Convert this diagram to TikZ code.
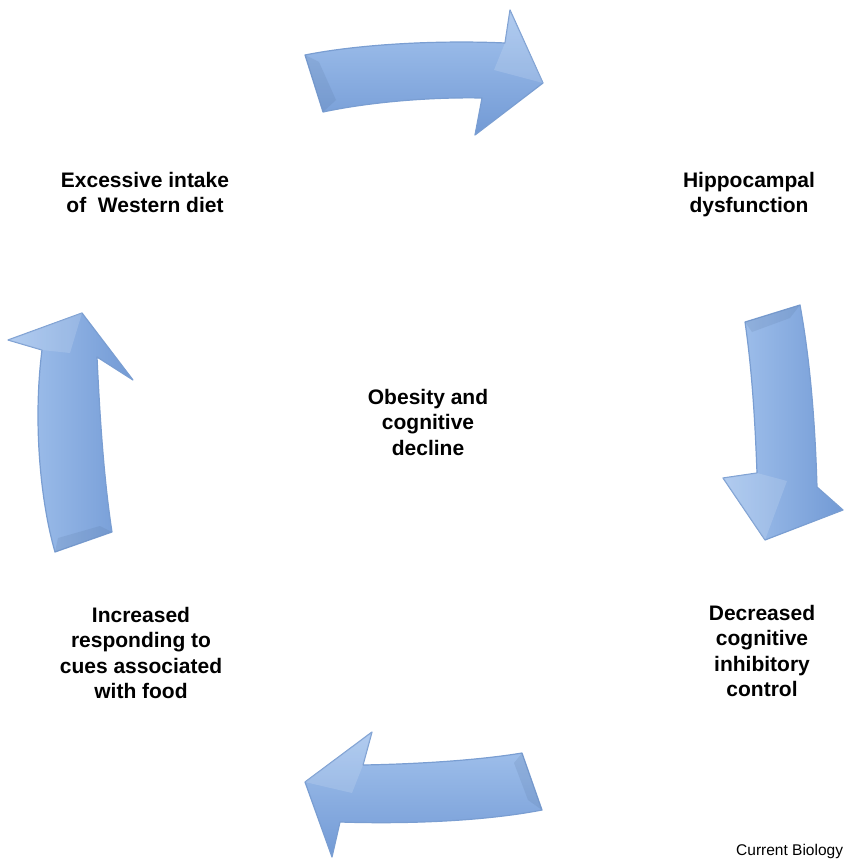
\documentclass[tikz,border=0pt]{standalone}
\usepackage{fontspec}
\setmainfont{Liberation Sans}
\definecolor{arrowlight}{RGB}{165,196,238}
\definecolor{arrowdark}{RGB}{114,154,213}
\definecolor{arrowedge}{RGB}{122,158,210}
\begin{document}
\begin{tikzpicture}[x=1pt, y=-1pt, line join=round,
    cyclearrow/.style={draw=arrowedge, line width=1.2pt},
    litface/.style={fill=white, fill opacity=0.14, draw=none},
    darkface/.style={fill=arrowdark!70!black, fill opacity=0.15, draw=none},
    steptext/.style={font=\bfseries\fontsize{21}{25.5}\selectfont, align=center, inner sep=0pt, anchor=north}]
    % 1. page frame
    \useasboundingbox (0,0) rectangle (845,864);

    % 2. top arrow (diet -> hippocampus)
    \draw[cyclearrow, top color=arrowlight, bottom color=arrowdark]
        (305,55) .. controls (360,44) and (440,40) .. (505,43) -- (510,10) -- (543,83)
        -- (475,135) -- (482,98) .. controls (430,97) and (370,102) .. (323,112) -- cycle;
    \fill[litface] (505,43) -- (510,10) -- (543,83) -- (494,70) -- cycle;
    \fill[darkface] (305,55) -- (323,112) -- (336,100) -- (319,62) -- cycle;

    % 3. right arrow (hippocampus -> inhibitory control)
    \draw[cyclearrow, left color=arrowlight, right color=arrowdark]
        (745,322) -- (800,305) .. controls (810,360) and (815,420) .. (817,487)
        -- (843,510) -- (765,540) -- (723,478) -- (757,473)
        .. controls (755,420) and (752,370) .. (745,322) -- cycle;
    \fill[litface] (757,473) -- (723,478) -- (765,540) -- (787,481) -- cycle;
    \fill[darkface] (745,322) -- (800,305) -- (790,318) -- (752,332) -- cycle;

    % 4. bottom arrow (inhibitory control -> food cues)
    \draw[cyclearrow, top color=arrowlight, bottom color=arrowdark]
        (522,753) -- (542,810) .. controls (480,822) and (400,824) .. (340,822)
        -- (332,857) -- (305,782) -- (372,732) -- (363,765)
        .. controls (420,764) and (480,760) .. (522,753) -- cycle;
    \fill[litface] (363,765) -- (372,732) -- (305,782) -- (352,793) -- cycle;
    \fill[darkface] (522,753) -- (542,810) -- (528,800) -- (514,763) -- cycle;

    % 5. left arrow (food cues -> diet)
    \draw[cyclearrow, left color=arrowlight, right color=arrowdark]
        (55,552) -- (112,532) .. controls (104,480) and (100,420) .. (97,357)
        -- (133,380) -- (82,313) -- (8,340) -- (42,350)
        .. controls (33,420) and (40,500) .. (55,552) -- cycle;
    \fill[litface] (42,350) -- (8,340) -- (82,313) -- (70,353) -- cycle;
    \fill[darkface] (55,552) -- (112,532) -- (100,526) -- (58,538) -- cycle;

    % 6. stage labels
    \node[steptext] (diet) at (145,172) {Excessive intake\\of\ \ Western diet};
    \node[steptext] (hippo) at (749,172) {Hippocampal\\dysfunction};
    \node[steptext] (inhib) at (762,605) {Decreased\\cognitive\\inhibitory\\control};
    \node[steptext] (cues) at (141,607) {Increased\\responding to\\cues associated\\with food};
    \node[steptext] (core) at (428,389) {Obesity and\\cognitive\\decline};

    % 7. source
    \node[anchor=base west, inner sep=0pt, font=\fontsize{15.5}{18}\selectfont] (source) at (736,855) {Current Biology};
\end{tikzpicture}
\end{document}
